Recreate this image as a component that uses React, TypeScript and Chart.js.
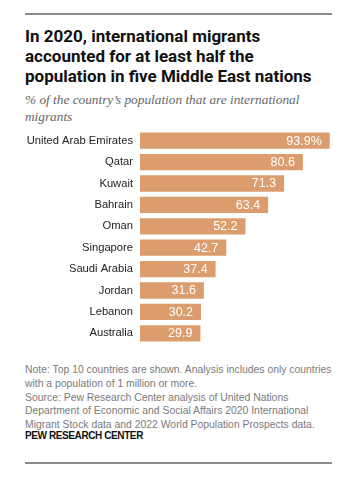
import React, { useEffect, useRef } from "react";
import { Chart, registerables } from "chart.js";

Chart.register(...registerables);

const countries = [
  "United Arab Emirates",
  "Qatar",
  "Kuwait",
  "Bahrain",
  "Oman",
  "Singapore",
  "Saudi Arabia",
  "Jordan",
  "Lebanon",
  "Australia",
];
const shares = [93.9, 80.6, 71.3, 63.4, 52.2, 42.7, 37.4, 31.6, 30.2, 29.9];
const valueLabels = ["93.9%", "80.6", "71.3", "63.4", "52.2", "42.7", "37.4", "31.6", "30.2", "29.9"];

const titleLines = [
  "In 2020, international migrants",
  "accounted for at least half the",
  "population in five Middle East nations",
];
const subtitleLines = ["% of the country\u2019s population that are international", "migrants"];
const noteLines = [
  "Note: Top 10 countries are shown. Analysis includes only countries",
  "with a population of 1 million or more.",
  "Source: Pew Research Center analysis of United Nations",
  "Department of Economic and Social Affairs 2020 International",
  "Migrant Stock data and 2022 World Population Prospects data.",
];

const BAR = "#DC9D6E";
const SANS = "'Liberation Sans', Arial, sans-serif";

const valuePlugin = {
  id: "valueLabels",
  afterDatasetsDraw(chart: any) {
    const ctx = chart.ctx;
    const meta = chart.getDatasetMeta(0);
    ctx.save();
    ctx.fillStyle = "#ffffff";
    ctx.font = `12.5px ${SANS}`;
    ctx.textAlign = "right";
    ctx.textBaseline = "middle";
    meta.data.forEach((bar: any, i: number) => {
      ctx.fillText(valueLabels[i], bar.x - 8, bar.y + 0.5);
    });
    ctx.restore();
  },
};

export default function App() {
  const ref = useRef<HTMLCanvasElement | null>(null);
  useEffect(() => {
    if (!ref.current) return;
    const chart = new Chart(ref.current, {
      type: "bar",
      data: {
        labels: countries,
        datasets: [
          {
            data: shares,
            backgroundColor: BAR,
            borderWidth: 0,
            barPercentage: 0.76,
            categoryPercentage: 1,
          },
        ],
      },
      options: {
        indexAxis: "y",
        animation: false,
        responsive: false,
        maintainAspectRatio: false,
        layout: { padding: { top: 0, bottom: 0, left: 0, right: 29 } },
        plugins: { legend: { display: false }, tooltip: { enabled: false } },
        scales: {
          x: { display: false, min: 0, max: 95 },
          y: {
            grid: { display: false, drawTicks: false },
            border: { display: false },
            ticks: {
              color: "#222",
              padding: 7,
              font: { family: SANS, size: 11.2 },
            },
            afterFit(scale: any) {
              scale.width = 140;
              scale.paddingTop = 0;
              scale.paddingBottom = 0;
            },
          },
        },
      },
      plugins: [valuePlugin],
    });
    return () => chart.destroy();
  }, []);

  return (
    <div
      style={{
        position: "fixed",
        left: 0,
        top: 0,
        width: 361,
        height: 483,
        background: "#fff",
        fontFamily: SANS,
      }}
    >
      <div style={{ position: "absolute", left: 25, top: 13, width: 307, height: 2, background: "#8a8a8a" }} />
      <div
        style={{
          position: "absolute",
          left: 25,
          top: 26,
          fontFamily: "Roboto, 'Liberation Sans', sans-serif",
          fontWeight: 700,
          fontSize: 17,
          lineHeight: "20px",
          color: "#111",
          whiteSpace: "nowrap",
        }}
      >
        {titleLines.map((l, i) => (
          <div key={i}>{l}</div>
        ))}
      </div>
      <div
        style={{
          position: "absolute",
          left: 25,
          top: 91,
          fontFamily: "'Liberation Serif', Georgia, serif",
          fontStyle: "italic",
          fontSize: 13.3,
          lineHeight: "17px",
          color: "#666",
          whiteSpace: "nowrap",
        }}
      >
        {subtitleLines.map((l, i) => (
          <div key={i}>{l}</div>
        ))}
      </div>
      <canvas
        ref={ref}
        width={361}
        height={214}
        style={{ position: "absolute", left: 0, top: 130, width: 361, height: 214 }}
      />
      <div
        style={{
          position: "absolute",
          left: 25,
          top: 363,
          fontSize: 10.4,
          lineHeight: "13.8px",
          color: "#7a7a7a",
          whiteSpace: "nowrap",
        }}
      >
        {noteLines.map((l, i) => (
          <div key={i}>{l}</div>
        ))}
      </div>
      <div
        style={{
          position: "absolute",
          left: 25,
          top: 430,
          fontSize: 10,
          fontWeight: 700,
          color: "#111",
          letterSpacing: -0.4,
          whiteSpace: "nowrap",
        }}
      >
        PEW RESEARCH CENTER
      </div>
      <div style={{ position: "absolute", left: 25, top: 462, width: 307, height: 2, background: "#8a8a8a" }} />
    </div>
  );
}
